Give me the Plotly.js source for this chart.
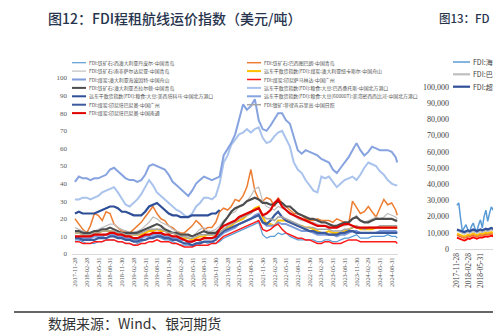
<!DOCTYPE html>
<html><head><meta charset="utf-8">
<script src="https://cdn.plot.ly/plotly-3.0.1.min.js"></script>
<style>html,body{margin:0;padding:0;background:#fff;overflow:hidden}</style>
</head><body><div id="chart" style="width:493px;height:333px"></div>
<script>
// ---------- Figure 12 data (USD/ton), monthly readings ----------
const dates = [
"2017-11-28","2017-12-28",
"2018-01-28","2018-02-28","2018-03-28","2018-04-28","2018-05-28","2018-06-28","2018-07-28","2018-08-28","2018-09-28","2018-10-28","2018-11-28","2018-12-28",
"2019-01-28","2019-02-28","2019-03-28","2019-04-28","2019-05-28","2019-06-28","2019-07-28","2019-08-28","2019-09-28","2019-10-28","2019-11-28","2019-12-28",
"2020-01-28","2020-02-28","2020-03-28","2020-04-28","2020-05-28","2020-06-28","2020-07-28","2020-08-28","2020-09-28","2020-10-28","2020-11-28","2020-12-28",
"2021-01-28","2021-02-28","2021-03-28","2021-04-28","2021-05-28","2021-06-28","2021-07-28","2021-08-28","2021-09-28","2021-10-28","2021-11-28","2021-12-28",
"2022-01-28","2022-02-28","2022-03-28","2022-04-28","2022-05-28","2022-06-28","2022-07-28","2022-08-28","2022-09-28","2022-10-28","2022-11-28","2022-12-28",
"2023-01-28","2023-02-28","2023-03-28","2023-04-28","2023-05-28","2023-06-28","2023-07-28","2023-08-28","2023-09-28","2023-10-28","2023-11-28","2023-12-28",
"2024-01-28","2024-02-28","2024-03-28","2024-04-28","2024-05-28","2024-06-28","2024-07-28","2024-08-28","2024-09-28","2024-10-10"];

const tickDates = ["2017-11-28","2018-02-28","2018-05-31","2018-08-31","2018-11-30","2019-02-28","2019-05-31","2019-08-31","2019-11-30","2020-02-29","2020-05-31","2020-08-31","2020-11-30","2021-02-28","2021-05-31","2021-08-31","2021-11-30","2022-02-28","2022-05-31","2022-08-31","2022-11-30","2023-02-28","2023-05-31","2023-08-31","2023-11-30","2024-02-29","2024-05-31","2024-08-31"];

const dampier = [8,8, 7,6,6,6,7,7,8,8,8,7,7,6, 6,5,6,7,8,9,10,10,9,8,8,7, 6,5,5,5,5,6,7,7,6,7,6,7, 9,10,11,12,13,14,15,16,17,18,11,9, 10,10,12,11,12,10,9,8,8,8,8,8, 7,7,8,8,7,7,8,9,9,10,11,9, 9,9,10,10,10,10,11,10,10,9];
const tubarao = [20,17, 14,12,16,23,22,19,24,23,17,15,13,13, 12,14,16,18,21,24,27,23,20,19,16,15, 13,12,12,14,16,19,17,14,15,15,18,24, 26,25,27,31,30,33,38,48,36,31,30,32, 31,27,32,29,27,25,23,23,22,20,19,19, 20,19,19,19,18,20,19,18,17,30,26,23, 24,27,24,21,26,31,28,29,25,22];
const saldanha = [15,14, 13,12,12,13,14,15,16,17,17,15,14,13, 12,12,13,14,16,18,21,20,18,17,16,14, 13,11,10,10,10,12,14,15,13,13,14,16, 19,21,23,24,27,28,30,33,37,38,30,27, 26,25,27,26,25,24,22,20,19,19,18,18, 17,16,16,16,15,15,16,16,17,20,22,19, 18,19,20,21,20,21,23,22,21,20];
const newcastle = [12,12, 11,11,11,12,12,13,13,13,12,12,11,11, 11,11,11,11,12,13,13,14,13,13,12,12, 11,9,9,9,8,9,10,10,11,11,11,12, 14,15,16,18,19,20,22,24,26,27,21,17, 17,16,19,19,19,18,17,16,16,15,15,14, 13,12,12,13,12,12,12,13,14,15,16,14, 14,14,14,15,15,15,15,15,15,15];
const haypoint = [10,10, 9,9,9,10,10,10,11,11,11,10,10,9, 9,8,8,9,10,10,11,11,11,10,10,9, 9,8,8,7,7,8,8,9,9,9,9,10, 12,13,14,15,17,18,19,20,22,23,18,16, 16,16,18,17,17,16,15,14,13,13,13,12, 11,11,11,11,11,10,11,11,12,13,13,12, 12,12,12,12,13,13,13,13,13,12];
const samarinda = [7,7, 6,6,6,7,7,7,8,8,8,7,7,6, 6,5,5,6,6,7,7,8,7,7,7,6, 6,5,4,4,4,5,5,5,5,6,6,8, 10,11,12,13,14,15,16,17,18,19,14,13, 14,16,17,14,12,11,10,9,9,8,8,7, 6,6,7,7,6,6,6,7,8,8,8,7, 7,7,7,7,7,7,7,7,7,6];
const geraldton = [13,13, 12,12,12,13,13,14,14,15,14,13,12,12, 12,12,12,13,14,15,16,17,16,14,13,12, 12,11,11,11,10,11,12,13,12,12,12,14, 18,21,24,26,27,28,30,31,32,31,29,29, 28,28,30,29,27,27,25,23,22,21,20,20, 19,18,18,17,16,16,17,18,18,20,21,19, 18,18,19,20,20,20,20,20,19,19];
const santos = [31,31, 32,32,31,32,33,35,36,37,38,35,31,28, 27,29,31,34,38,42,39,35,33,31,29,27, 25,24,22,21,23,27,29,32,32,31,33,40, 52,56,62,65,68,69,71,69,71,72,66,63, 64,67,69,70,66,61,52,48,46,42,39,36, 35,44,43,44,41,38,40,42,43,44,42,45, 49,52,51,50,47,45,42,40,39,39];
const tacoma = [23,24, 23,23,23,23,24,25,26,27,27,26,24,24, 23,22,22,22,24,27,28,29,27,25,23,22, 22,21,21,21,22,22,22,22,22,23,23,25];
const usGulf60k = [41,44, 43,43,42,43,43,44,45,48,49,47,45,43, 42,42,41,42,45,50,51,50,49,48,45,41, 39,37,35,33,36,40,42,44,43,42,43,44, 56,60,63,68,76,85,82,84,88,76,71,70, 73,77,80,80,76,74,66,59,57,59,58,57, 56,54,53,52,48,46,49,52,55,59,63,59, 56,58,61,60,59,59,59,58,55,52];
const tabaneoGZ = [9,9, 8,8,8,8,9,9,9,10,10,9,9,8, 8,7,7,8,8,9,9,10,10,9,9,8, 8,7,6,6,5,6,6,7,7,7,8,11, 13,14,15,16,17,18,19,20,21,22,18,17, 19,22,24,21,19,18,17,16,15,14,13,13, 12,12,12,11,11,11,12,12,13,13,12,12, 12,12,12,12,12,12,12,12,12,12];
const surigao = [12,12, 11,11,11,12,12,13,13,13,13,12,12,11, 11,11,11,12,13,14,14,14,14,13,12,12, 11,10,10,9,9,10,11,11,11,11,11,12, 14,16,17,18,20,21,22,23,25,26,22,20, 20,19,21,21,20,19,18,17,16,15,15,15, 14,14,14,14,13,13,13,14,14,15,16,15, 14,15,15,15,16,16,16,16,16,16];
const tabaneoNT = [10,10, 10,10,10,11,11,11,11,12,12,11,11,10, 10,9,9,10,11,11,12,12,12,11,11,10, 10,9,8,7,7,8,8,9,9,9,10,14, 16,17,18,19,21,22,23,24,25,26,22,23, 25,29,31,27,25,23,22,21,20,19,18,17, 16,16,16,15,15,15,16,17,17,16,15,15, 15,15,15,15,15,15,15,15,15,15];

const seriesNames = [
 "FDI:铁矿石:西澳大利亚丹皮尔-中国青岛",
 "FDI:铁矿石:巴西图巴朗-中国青岛",
 "FDI:铁矿石:南非萨尔达尼亚-中国青岛",
 "远东干散货指数(FDI):煤炭:澳大利亚纽卡斯尔-中国舟山",
 "FDI:煤炭:澳大利亚海波因特-中国舟山",
 "FDI:煤炭:印尼萨马林达-中国广州",
 "FDI:铁矿石:澳大利亚杰拉尔顿-中国青岛",
 "远东干散货指数(FDI):粮食:大豆:巴西桑托斯-中国北方港口",
 "远东干散货指数(FDI):粮食:大豆:美西塔科马-中国北方港口",
 "远东干散货指数(FDI):粮食:大豆(60000T):美湾密西西比河-中国北方港口",
 "FDI:煤炭:印尼塔巴尼奥-中国广州",
 "FDI:镍矿:菲律宾苏里高-中国日照",
 "FDI:煤炭:印尼塔巴尼奥-中国南通"];
const seriesValues = [dampier, tubarao, saldanha, newcastle, haypoint, samarinda, geraldton, santos, tacoma, usGulf60k, tabaneoGZ, surigao, tabaneoNT];

// ---------- Figure 13 data (USD/day), partial view (cut by the page edge) ----------
const dates13 = ["2017-11-28","2017-12-12","2017-12-26","2018-01-09","2018-01-23","2018-02-06","2018-02-20","2018-03-06","2018-03-20","2018-04-03","2018-04-17","2018-05-01","2018-05-15","2018-05-29","2018-06-12","2018-06-26","2018-07-10","2018-07-24","2018-08-07","2018-08-21","2018-09-04"];
const tickDates13 = ["2017-11-28","2018-02-28","2018-05-31","2018-08-31"];
const capesize = [27000,28500,19000,11000,13000,15000,12000,10500,14000,16000,12500,11000,15000,18000,13000,20000,24000,17000,22000,26000,24000];
const panamax = [11500,11000,10500,10000,9500,10000,10500,10000,10500,11000,10500,10000,10500,11000,10500,11000,11500,11000,11500,12000,11500];
const supramax = [12000,11500,11000,10500,10500,11000,11500,11000,11500,12000,11500,11000,11500,12000,11500,12000,12500,12000,12500,13000,12500];
const handymaxY = [9500,9000,8500,8000,7800,8200,8800,8500,9000,9500,9000,8500,9000,9500,9200,9600,10000,9700,10000,10500,10000];
const handymaxO = [8500,8000,7500,7000,6800,7200,7800,7500,8000,8500,8000,7500,8000,8500,8200,8600,9000,8700,9000,9500,9000];
const handysize = [7000,6500,6000,5500,5200,5600,6500,6200,6800,7200,6800,6300,6800,7200,7000,7300,7800,7500,7800,8200,7800];
// only the visible part of these legend labels / title is shown in the reference
const names13 = ["FDI:海","FDI:巴","FDI:超","FDI:大","FDI:灵","FDI:小"];
const values13 = [capesize, panamax, supramax, handymaxY, handymaxO, handysize];

// ---------- styling ----------
const W = 493, H = 333;
const colors = ["#5B9BD5","#ED7D31","#BFBFBF","#FFC000","#7F9BDA","#FF1A1A","#4D4D4D","#A9C3EC","#2E4F98","#86A3E0","#3C5A9E","#A5A5A5","#E00000"];
const widths = [1.2,1.5,1.2,2,2,1.5,2.2,2,2.2,2,2.2,1.5,2.2];
const colors13 = ["#5B9BD5","#BFBFBF","#2F4F98","#FFC000","#ED7D31","#FF0000"];
const widths13 = [1.5,2.2,2.2,1.8,1.8,1.8];

const px = v => v / W, py = v => 1 - v / H;

const traces = [];
seriesValues.forEach((v, i) => traces.push({
  type: "scatter", mode: "lines", x: dates, y: v, name: seriesNames[i],
  line: {color: colors[i], width: widths[i]}, xaxis: "x", yaxis: "y", showlegend: false, hoverinfo: "skip"
}));
values13.forEach((v, i) => traces.push({
  type: "scatter", mode: "lines", x: dates13, y: v, name: names13[i],
  line: {color: colors13[i], width: widths13[i]}, xaxis: "x2", yaxis: "y2", showlegend: false, hoverinfo: "skip"
}));

// legend built in two columns (Excel-style, row-wise order)
const annotations = [], shapes = [];
const legRowY = [62.7, 71.1, 79.5, 87.9, 96.3, 104.7, 113.1];
seriesNames.forEach((n, i) => {
  const col = i % 2, row = Math.floor(i / 2);
  const x0 = col === 0 ? 72 : 247;
  const y = legRowY[row];
  shapes.push({type: "line", xref: "paper", yref: "paper", x0: px(x0), x1: px(x0 + 14), y0: py(y), y1: py(y),
    line: {color: colors[i], width: Math.min(widths[i], 2)}});
  annotations.push({xref: "paper", yref: "paper", x: px(x0 + 15), y: py(y), xanchor: "left", yanchor: "middle",
    text: n, showarrow: false, font: {family: "Noto Sans CJK SC", size: 4.9, color: "#505050"}});
});
const leg13Y = [62, 74.3, 86.7];
[0, 1, 2].forEach(i => {
  shapes.push({type: "line", xref: "paper", yref: "paper", x0: px(453), x1: px(470), y0: py(leg13Y[i]), y1: py(leg13Y[i]),
    line: {color: colors13[i], width: widths13[i]}});
  annotations.push({xref: "paper", yref: "paper", x: px(471), y: py(leg13Y[i]), xanchor: "left", yanchor: "middle",
    text: names13[i], showarrow: false, font: {family: "Noto Sans CJK SC", size: 7, color: "#404040"}});
});

annotations.push({xref: "paper", yref: "paper", x: px(46), y: py(18), xanchor: "left", yanchor: "middle",
  text: "图12：FDI程租航线运价指数（美元/吨）", showarrow: false, font: {family: "Noto Sans CJK SC", size: 14, color: "#27344D", weight: 500}});
annotations.push({xref: "paper", yref: "paper", x: px(437), y: py(18), xanchor: "left", yanchor: "middle",
  text: "图13：FD", showarrow: false, font: {family: "Noto Sans CJK SC", size: 11.5, color: "#27344D", weight: 500}});
annotations.push({xref: "paper", yref: "paper", x: px(46), y: py(323), xanchor: "left", yanchor: "middle",
  text: "数据来源：Wind、银河期货", showarrow: false, font: {family: "Noto Sans CJK SC", size: 14, color: "#333333"}});

shapes.push({type: "line", xref: "paper", yref: "paper", x0: px(14), x1: 1, y0: py(312), y1: py(312), line: {color: "#333333", width: 1.5}});

const tickFont = {family: "Liberation Serif", size: 6.3, color: "#595959"};
const layout = {
  width: W, height: H, margin: {l: 0, r: 0, t: 0, b: 0},
  paper_bgcolor: "#ffffff", plot_bgcolor: "rgba(0,0,0,0)", showlegend: false, hovermode: false,
  xaxis: {type: "date", domain: [px(72), px(398)], range: ["2017-11-05", "2024-10-16"], anchor: "y",
    tickmode: "array", tickvals: tickDates, ticktext: tickDates, tickangle: -90, tickfont: tickFont,
    showgrid: false, zeroline: false, showline: true, linecolor: "#D9D9D9", linewidth: 1, ticks: ""},
  yaxis: {domain: [1 - 254 / H, 1 - 78 / H], range: [0, 100], anchor: "x", tickvals: [0,10,20,30,40,50,60,70,80,90,100],
    tickfont: {family: "Liberation Serif", size: 7, color: "#595959"}, showgrid: false, zeroline: false, showline: false, ticks: "", ticklabelstandoff: 4},
  xaxis2: {type: "date", domain: [px(455), 1], range: ["2017-11-13", "2018-09-03"], anchor: "y2",
    tickmode: "array", tickvals: tickDates13, ticktext: tickDates13, tickangle: -90,
    tickfont: {family: "Liberation Serif", size: 7.5, color: "#404040"},
    showgrid: false, zeroline: false, showline: true, linecolor: "#D9D9D9", linewidth: 1, ticks: ""},
  yaxis2: {domain: [1 - 249 / H, 1 - 87 / H], range: [0, 100000], anchor: "x2", tickformat: ",d",
    tickvals: [0,10000,20000,30000,40000,50000,60000,70000,80000,90000,100000],
    tickfont: {family: "Liberation Serif", size: 8, color: "#404040"}, showgrid: false, zeroline: false, showline: false, ticks: "", ticklabelstandoff: 5},
  annotations: annotations, shapes: shapes
};
Plotly.newPlot("chart", traces, layout, {staticPlot: true, displayModeBar: false});
</script></body></html>
